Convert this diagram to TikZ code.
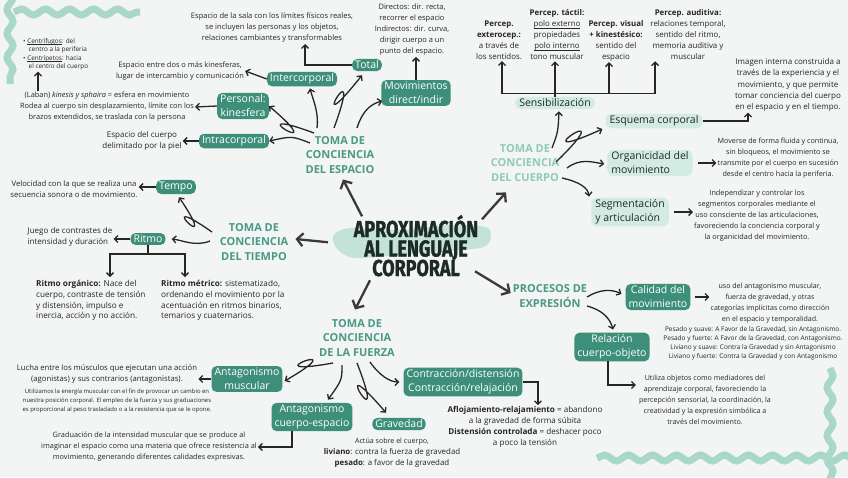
\documentclass[tikz,border=0pt]{standalone}
\usepackage{fontspec}
\setmainfont{Open Sans}
\newfontfamily\titleface{Fira Sans}[BoldFeatures={FakeBold=1.6}]
\usetikzlibrary{arrows.meta,calc,decorations.pathmorphing}
\definecolor{bgc}{HTML}{F3F4F4}
\definecolor{teal1}{HTML}{3D8F7A}
\definecolor{teal2}{HTML}{4A9985}
\definecolor{tealL}{HTML}{8FCBB9}
\definecolor{mint}{HTML}{D2ECE3}
\definecolor{wavec}{HTML}{A9D7C9}
\definecolor{band}{HTML}{C4E3D8}
\definecolor{ink}{HTML}{262626}
\definecolor{dark}{HTML}{1C2B26}
\definecolor{gray3}{HTML}{3A3A3A}
\newcommand\fsz[2][11]{\fontsize{#2}{#1}\selectfont}
\newcommand\ulx[1]{\setbox0\hbox{#1}\rlap{\rule[-1.1pt]{\wd0}{0.45pt}}\box0}
\newcommand\boxfnt{\fontsize{10.5}{14}\selectfont}
\newcommand\headfnt{\fontsize{11}{14.2}\selectfont\bfseries}
\newcommand\titlefnt{\fontsize{23}{23}\selectfont\titleface\bfseries}
\begin{document}
\begin{tikzpicture}[x=1pt,y=-1pt,
  tbox/.style={fill=teal1,text=white,rounded corners=5pt,inner xsep=3pt,inner ysep=2pt,font=\boxfnt,align=center},
  mbox/.style={fill=mint,text=ink,rounded corners=6pt,inner xsep=4pt,inner ysep=2pt,font=\boxfnt,align=center},
  head/.style={text=teal2,font=\headfnt,align=center,inner sep=1pt},
  note/.style={text=ink,font={\fsz{7.5}},align=center,inner sep=1pt},
  ttl/.style={font=\titlefnt,text=dark,inner sep=0pt},
  arr/.style={draw=ink,line width=1.3pt,-{Straight Barb[length=3.5pt,width=7pt]}},
  plain/.style={draw=ink,line width=1.3pt},
  big/.style={draw=gray3,line width=2.3pt,-{Straight Barb[length=6pt,width=13pt]}},
  wave/.style={draw=wavec,line width=7pt,decorate,decoration={snake,amplitude=3pt,segment length=24pt}},
]
\fill[bgc] (0,0) rectangle (848,477);
\useasboundingbox (0,0) rectangle (848,477);
% decorations
\draw[wave] (10,-10) -- (10,84);
\draw[wave] (14,12) -- (140,12);
\draw[wave] (597,458) -- (870,458);
\draw[wave] (830,368) -- (830,490);
\fill[band] plot[smooth cycle] coordinates {(333,236) (350,228) (400,230) (450,225) (488,228) (486,246) (450,251) (400,255) (355,258) (338,250)};

% title
\node[ttl,anchor=base] (title1) at (416,237) {\scalebox{0.78}[1]{APROXIMACIÓN}};
\node[ttl,anchor=base] (title) at (416,256.5) {\scalebox{0.78}[1]{AL LENGUAJE}};
\node[ttl,anchor=base] (title3) at (416,276) {\scalebox{0.78}[1]{CORPORAL}};

% ===== ESPACIO
\node[head] (hesp) at (340,155) {TOMA DE\\CONCIENCIA\\DEL ESPACIO};
\node[tbox] (intra) at (234,141) {Intracorporal};
\node[tbox] (pers) at (243,106) {Personal:\\kinesfera};
\node[tbox] (inter) at (302,79) {Intercorporal};
\node[tbox] (total) at (367,65) {Total};
\node[tbox] (movs) at (416,93) {Movimientos\\direct/indir};
\node[note,font={\fsz{8}}] (tintra) at (142,141) {Espacio del cuerpo\\delimitado por la piel};
\node[note,font={\fsz{7.4}}] (tpers) at (107,107) {(Laban) \emph{kinesis y sphaira} = esfera en movimiento\\Rodea al cuerpo sin desplazamiento, límite con los\\brazos extendidos, se traslada con la persona};
\node[note,font={\fsz{7.45}}] (tinter) at (180,71) {Espacio entre dos o más kinesferas,\\lugar de intercambio y comunicación};
\node[note,font={\fsz{7.55}}] (ttotal) at (272,28) {Espacio de la sala con los límites físicos reales,\\se incluyen las personas y los objetos,\\relaciones cambiantes y transformables};
\node[note] (tmovs) at (412,30) {Directos: dir. recta,\\recorrer el espacio\\Indirectos: dir. curva,\\dirigir cuerpo a un\\punto del espacio.};
\node[text=ink,font={\fsz[8.6]{6.4}},align=left,inner sep=1pt,anchor=north west] (tcent) at (22,37)
  {\textbullet\ \ulx{Centrífugos}: del\\\hspace*{5.5pt}centro a la periferia\\\textbullet\ \ulx{Centrípetos}: hacia\\\hspace*{5.5pt}el centro del cuerpo};
\coordinate (cx) at (38,0);

\draw[arr] (intra.west) -- (tintra.east);
\draw[arr] (pers.west) -- (tpers.east);
\draw[arr] (inter.west) -- (tinter.east);
\draw[arr] (total.west) -| ($(ttotal.south)+(33,0)$);
\draw[arr] (movs.north) -- (movs.north |- tmovs.south);
\draw[arr] (tpers.north -| cx) -- (tcent.south -| cx);

\draw[arr] ($(hesp.center)+(-30,-12)$) .. controls (292,136) .. (intra.east);
\draw[arr] ($(hesp.center)+(-26,-22)$) .. controls (230,102) and (338,165) .. (pers.east);
\draw[arr] ($(hesp.center)+(-23,-27)$) .. controls (319,112) and (313,100) .. ($(inter.south)+(8,2)$);
\draw[arr] ($(hesp.center)+(-6,-27)$) .. controls (367,38) and (300,153) .. ($(total.south)+(-5,4)$);
\draw[arr] ($(hesp.center)+(17,-27)$) .. controls (362,112) and (370,104) .. ($(movs.south west)+(1,-5)$);

% ===== CUERPO
\node[head,text=tealL] (hcue) at (525,163) {TOMA DE\\CONCIENCIA\\DEL CUERPO};
\node[mbox] (sens) at (555,103) {Sensibilización};
\node[mbox] (esq) at (654,121) {Esquema corporal};
\node[mbox,align=left] (org) at (650,163) {Organicidad del\\movimiento};
\node[mbox,align=left] (seg) at (630,212) {Segmentación\\y articulación};
\node[note,font={\fsz{7.9}}] (p1) at (499,40.5) {\textbf{Percep.}\\\textbf{exterocep.:}\\a través de\\los sentidos.};
\node[note,font={\fsz{7.9}}] (p2) at (557,35) {\textbf{Percep. táctil:}\\\ulx{polo externo}\\propiedades\\\ulx{polo interno}\\tono muscular};
\node[note,font={\fsz{7.9}}] (p3) at (616,40.5) {\textbf{Percep. visual}\\\textbf{+ kinestésico:}\\sentido del\\espacio};
\node[note,font={\fsz{7.9}}] (p4) at (688,35) {\textbf{Percep. auditiva:}\\relaciones temporal,\\sentido del ritmo,\\memoria auditiva y\\muscular};
\node[note,font={\fsz[11.2]{8}}] (timg) at (788,85) {Imagen interna construida a\\través de la experiencia y el\\movimiento, y que permite\\tomar conciencia del cuerpo\\en el espacio y en el tiempo.};
\node[note,font={\fsz{7.2}}] (torg) at (778,158) {Moverse de forma fluida y continua,\\sin bloqueos, el movimiento se\\transmite por el cuerpo en sucesión\\desde el centro hacia la periferia.};
\node[note,font={\fsz{7.3}}] (tseg) at (757,216) {Independizar y controlar los\\segmentos corporales mediante el\\uso consciente de las articulaciones,\\favoreciendo la conciencia corporal y\\la organicidad del movimiento.};

\coordinate (br) at ($(sens.north)+(0,-3)$);
\draw[arr] (br) -| ($(p1.south)+(3,0)$);
\draw[arr] (br) -| ($(p3.south)+(-7,0)$);
\draw[arr] (br) -| ($(p4.south)+(-33,0)$);
\draw[arr] (sens.north) -- (sens.north |- p2.south);
\draw[arr] (esq.east) -| ($(timg.south)+(-40,0)$);
\draw[arr] ($(org.east)+(5,0)$) -- (org.east -| torg.west);
\draw[arr] ($(seg.east)+(5,0)$) -- (seg.east -| tseg.west);

\draw[arr] ($(hcue.center)+(27,-15)$) .. controls (558,132) .. ($(sens.south)+(4,2)$);
\draw[arr] ($(hcue.center)+(31,-1)$) .. controls (629,91) and (512,170) .. ($(esq.west)+(-3,8)$);
\draw[arr] ($(hcue.center)+(42,5)$) .. controls (580,158) and (592,162) .. ($(org.west)+(-3,1)$);
\draw[arr] ($(hcue.center)+(37,15)$) .. controls (580,182) and (588,188) .. ($(seg.north west)+(-2,-1)$);

% ===== TIEMPO
\node[head] (htie) at (254,242) {TOMA DE\\CONCIENCIA\\DEL TIEMPO};
\node[tbox] (tempo) at (176,187) {Tempo};
\node[tbox] (ritmo) at (148,239) {Ritmo};
\node[note,font={\fsz{7.7}}] (ttempo) at (74,189) {Velocidad con la que se realiza una\\secuencia sonora o de movimiento.};
\node[note,align=left,font={\fsz{8}}] (tritmo) at (70,237) {Juego de contrastes de\\intensidad y duración};
\node[note,align=left,anchor=north west,font={\fsz[10.8]{8.2}}] (rorg) at (35,279) {\textbf{Ritmo orgánico:} Nace del\\cuerpo, contraste de tensión\\y distensión, impulso e\\inercia, acción y no acción.};
\node[note,align=left,anchor=north west,font={\fsz[10.8]{8.2}}] (rmet) at (160,279) {\textbf{Ritmo métrico:} sistematizado,\\ordenando el movimiento por la\\acentuación en ritmos binarios,\\temarios y cuaternarios.};

\draw[arr] ($(htie.center)+(-42,-10)$) .. controls (146,186) and (225,265) .. ($(tempo.south)+(3,3)$);
\draw[arr] ($(htie.center)+(-44,-1)$) .. controls (195,247) and (182,240) .. ($(ritmo.east)+(6,0)$);
\draw[arr] (tempo.west) -- (tempo.west -| ttempo.east);
\draw[arr] (ritmo.west) -- (ritmo.west -| tritmo.east);
\draw[plain] (ritmo.south) -- ($(ritmo.south)+(0,9)$) coordinate (rb);
\draw[arr] (rb) -| ($(rorg.north west)+(75,-2)$);
\draw[arr] (rb) -| ($(rmet.north west)+(25,-2)$);

% ===== FUERZA
\node[head] (hfue) at (357,338) {TOMA DE\\CONCIENCIA\\DE LA FUERZA};
\node[tbox] (amus) at (247,379) {Antagonismo\\muscular};
\node[tbox] (acue) at (312,417) {Antagonismo\\cuerpo-espacio};
\node[tbox] (grav) at (399,424) {Gravedad};
\node[tbox] (cont) at (463,382) {Contracción/distensión\\Contracción/relajación};
\node[note,font={\fsz{7.7}}] (tamus) at (107,374) {Lucha entre los músculos que ejecutan una acción\\(agonistas) y sus contrarios (antagonistas).};
\node[note,font={\fsz[9]{5.9}}] (tamus2) at (117,401) {Utilizamos la energía muscular con el fin de provocar un cambio en\\nuestra posición corporal. El empleo de la fuerza y sus graduaciones\\es proporcional al peso trasladado o a la resistencia que se le opone.};
\node[note,font={\fsz{7.35}}] (tacue) at (149,447) {Graduación de la intensidad muscular que se produce al\\imaginar el espacio como una materia que ofrece resistencia al\\movimiento, generando diferentes calidades expresivas.};
\node[note,font={\fsz{7.9}}] (tgrav) at (392,453) {{\fsz{7.1}Actúa sobre el cuerpo,}\\\textbf{liviano}: contra la fuerza de gravedad\\\textbf{pesado}: a favor de la gravedad};
\node[note,font={\fsz{8.1}}] (tcont) at (525,427) {\textbf{Aflojamiento-relajamiento} = abandono\\a la gravedad de forma súbita\\\textbf{Distensión controlada} = deshacer poco\\a poco la tensión};

\draw[arr] ($(hfue.center)+(-24,25)$) .. controls (244,379) and (362,336) .. ($(amus.east)+(2,2)$);
\draw[arr] ($(hfue.center)+(-15,27)$) .. controls (342,380) .. ($(acue.north)+(16,-3)$);
\draw[arr] ($(hfue.center)+(0,25)$) .. controls (392,453) and (322,338) .. ($(grav.north)+(-13,-5)$);
\draw[arr] ($(hfue.center)+(13,24)$) .. controls (380,376) and (390,382) .. ($(cont.west)+(-4,0)$);
\draw[arr] (amus.west) -- (amus.west -| tamus.east);
\draw[arr] ($(acue.south)+(-20,0)$) |- (tacue.east);
\draw[arr] (cont.east) -| ($(tcont.north)+(13,0)$);

% ===== PROCESOS
\node[head] (hpro) at (550,296) {PROCESOS DE\\EXPRESIÓN};
\node[tbox] (cali) at (658,297) {Calidad del\\movimiento};
\node[tbox] (rela) at (612,347) {Relación\\cuerpo-objeto};
\node[note,font={\fsz{7.05}}] (tcali) at (770,303) {uso del antagonismo muscular,\\fuerza de gravedad, y otras\\categorías implícitas como dirección\\en el espacio y temporalidad.};
\node[note,font={\fsz[8.9]{6.5}}] (tcali2) at (753,343) {Pesado y suave: A Favor de la Gravedad, sin Antagonismo.\\Pesado y fuerte: A Favor de la Gravedad, con Antagonismo.\\Liviano y suave: Contra la Gravedad y sin Antagonismo\\Liviano y fuerte: Contra la Gravedad y con Antagonismo};
\node[note,font={\fsz{7.1}}] (trela) at (705,400) {Utiliza objetos como mediadores del\\aprendizaje corporal, favoreciendo la\\percepción sensorial, la coordinación, la\\creatividad y la expresión simbólica a\\través del movimiento.};

\draw[arr] ($(hpro.center)+(37,1)$) .. controls (600,289) and (612,289) .. ($(cali.west)+(-4,-3)$);
\draw[arr] ($(hpro.center)+(37,10)$) .. controls (602,310) and (610,318) .. ($(rela.north)+(1,-3)$);
\draw[arr] ($(cali.east)+(4,0)$) -- (cali.east -| tcali.west);
\draw[arr] ($(rela.south)+(-4,0)$) |- ($(trela.west)+(-2,-15)$);

% ===== central arrows
\coordinate (tc) at (title.center);
\draw[big] ($(tc)+(-54,-34)$) -- ($(hesp.south)+(3,5)$);
\draw[big] ($(tc)+(66,-31)$) -- ($(hcue.south)+(-19,10)$);
\draw[big] ($(tc)+(-88,-8)$) -- ($(htie.east)+(6,-3)$);
\draw[big] ($(tc)+(-46,30)$) -- ($(hfue.north)+(-2,-9)$);
\draw[big] ($(tc)+(59,21)$) -- ($(hpro.west)+(-1,-3)$);
\end{tikzpicture}
\end{document}
